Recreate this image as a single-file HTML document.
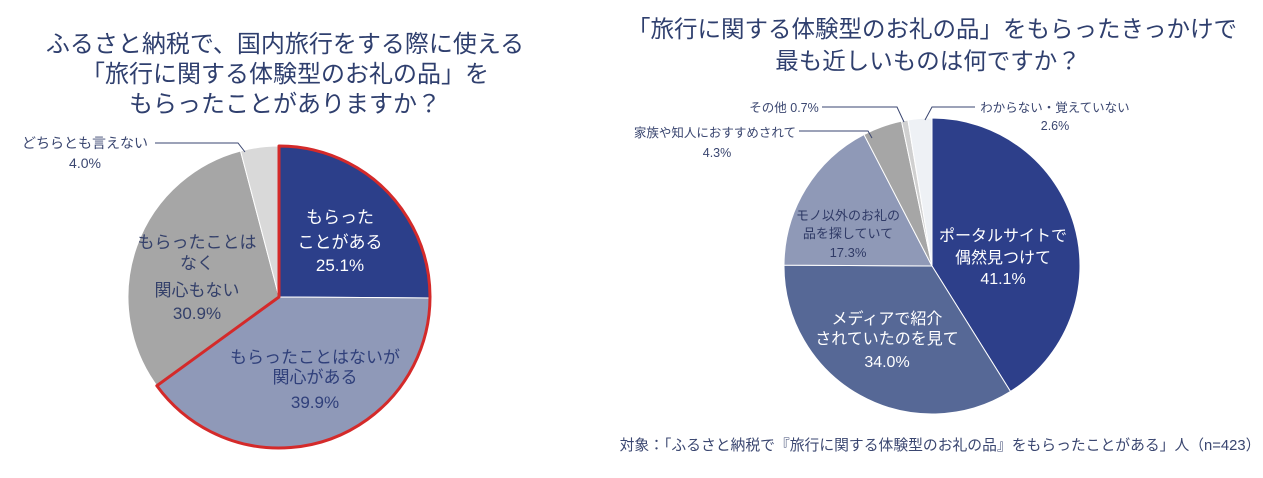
<!DOCTYPE html>
<html><head><meta charset="utf-8">
<style>
body{margin:0;background:#fff;}
svg text{font-family:"Liberation Sans","Noto Sans CJK JP",sans-serif;}
</style></head>
<body>
<svg id="s" width="1263" height="473" viewBox="0 0 1263 473" xmlns="http://www.w3.org/2000/svg">
<g fill="#2f3f6e" text-anchor="middle">
<g font-size="24">
<text x="285" y="52">ふるさと納税で、国内旅行をする際に使える</text>
<text x="285" y="82">「旅行に関する体験型のお礼の品」を</text>
<text x="285" y="112">もらったことがありますか？</text>
</g>
<g font-size="23.5">
<text x="932" y="37">「旅行に関する体験型のお礼の品」をもらったきっかけで</text>
<text x="928" y="69">最も近しいものは何ですか？</text>
</g>
</g>
<g id="L"></g><g id="R"></g>
<g fill="#3a4670" font-size="14" text-anchor="middle">
<text x="85" y="148">どちらとも言えない</text>
<text x="85" y="168">4.0%</text>
</g>
<g fill="#3a4670" font-size="12.5" text-anchor="middle">
<text x="784" y="112">その他 0.7%</text>
<text x="715" y="137">家族や知人におすすめされて</text>
<text x="717" y="157">4.3%</text>
<text x="1055" y="112">わからない・覚えていない</text>
<text x="1055" y="130">2.6%</text>
</g>
<g fill="none" stroke="#3a4670" stroke-width="1">
<polyline points="155,143 238,143 245,152"/>
<polyline points="822,107 897,107 904,122"/>
<polyline points="799,131 868,131 872,138"/>
<polyline points="975,107 932,107 925,120"/>
</g>
<g font-size="17" text-anchor="middle">
<g fill="#fff"><text x="340" y="223">もらった</text><text x="340" y="248">ことがある</text><text x="340" y="271">25.1%</text></g>
<g fill="#2f3f7a"><text x="315" y="363">もらったことはないが</text><text x="315" y="383">関心がある</text><text x="315" y="408">39.9%</text></g>
<g fill="#34406a"><text x="197" y="248">もらったことは</text><text x="197" y="269">なく</text><text x="197" y="296">関心もない</text><text x="197" y="319">30.9%</text></g>
</g>
<g font-size="16" text-anchor="middle">
<g fill="#fff"><text x="1003" y="241">ポータルサイトで</text><text x="1003" y="263">偶然見つけて</text><text x="1003" y="284">41.1%</text></g>
<g fill="#fff"><text x="887" y="324">メディアで紹介</text><text x="887" y="344">されていたのを見て</text><text x="887" y="367">34.0%</text></g>
</g>
<g font-size="13" text-anchor="middle" fill="#2f3a66">
<text x="848" y="220">モノ以外のお礼の</text><text x="848" y="238">品を探していて</text><text x="848" y="257">17.3%</text>
</g>
<text x="940" y="450" font-size="14.8" fill="#3a4670" text-anchor="middle">対象：「ふるさと納税で『旅行に関する体験型のお礼の品』をもらったことがある」人（n=423）</text>
</svg>
<script>
function pie(id,cx,cy,r,data){var g=document.getElementById(id),a=0,s='';
data.forEach(function(d){var a0=a*2*Math.PI/100,a1=(a+d[0])*2*Math.PI/100;a+=d[0];
var x0=cx+r*Math.sin(a0),y0=cy-r*Math.cos(a0),x1=cx+r*Math.sin(a1),y1=cy-r*Math.cos(a1);
s+='<path d="M'+cx+','+cy+'L'+x0+','+y0+'A'+r+','+r+' 0 '+(d[0]>50?1:0)+' 1 '+x1+','+y1+'Z" fill="'+d[1]+'" stroke="#fff" stroke-width="1"/>';});
return [g,s];}
var l=pie('L',279,297,151,[[25.1,'#2c3f8a'],[39.9,'#8f99b8'],[30.9,'#a6a6a6'],[4.1,'#d9d9d9']]);
var cx=279,cy=297,r=151,a1=65*2*Math.PI/100;
var ex=cx+r*Math.sin(a1),ey=cy-r*Math.cos(a1);
l[1]+='<path d="M'+cx+','+cy+'L'+cx+','+(cy-r)+'A'+r+','+r+' 0 1 1 '+ex+','+ey+'Z" fill="none" stroke="#d42a2a" stroke-width="3" stroke-linejoin="round"/>';
l[0].innerHTML=l[1];
var q=pie('R',932,266,148,[[41.1,'#2d3f8a'],[34.0,'#566896'],[17.3,'#8f99b7'],[4.3,'#a6a6a6'],[0.7,'#d0d0d0'],[2.6,'#eef1f5']]);
q[0].innerHTML=q[1];
</script>
</body></html>
